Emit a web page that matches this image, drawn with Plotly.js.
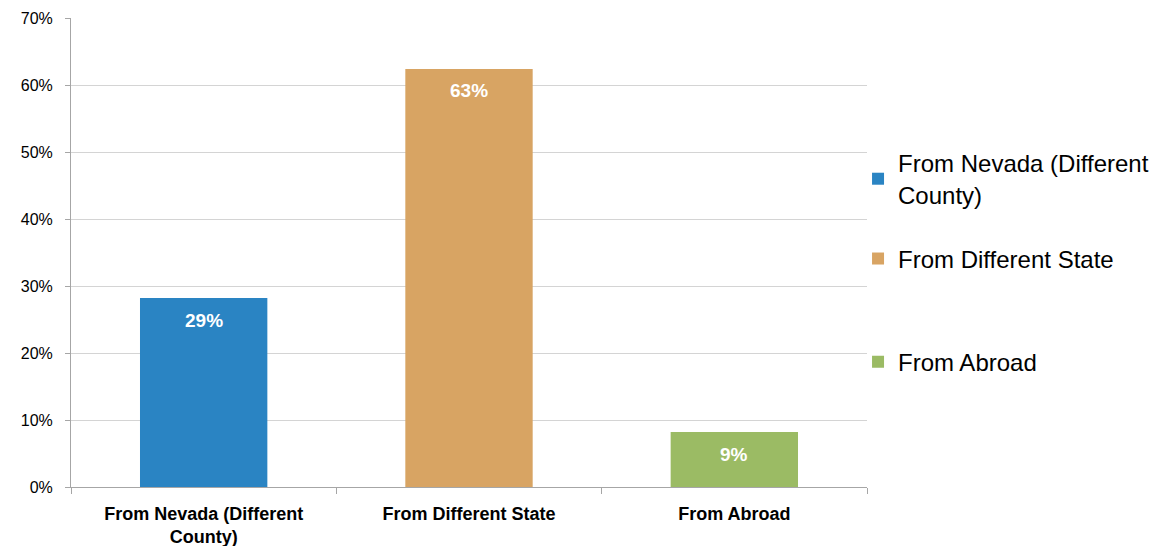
<!DOCTYPE html>
<html><head><meta charset="utf-8">
<script src="https://cdn.plot.ly/plotly-3.0.1.min.js"></script>
<style>html,body{margin:0;padding:0;background:#fff}#chart{width:1165px;height:546px}</style>
</head><body><div id="chart"></div>
<script>
const categories = ["From Nevada (Different<br>County)", "From Different State", "From Abroad"];
const legendNames = ["From Nevada (Different<br>County)", "From Different State", "From Abroad"];
const values = [28.2, 62.4, 8.2];
const labels = ["29%", "63%", "9%"];
const colors = ["#2a84c3", "#d8a463", "#9bbb64"];
const yTicks = [0, 10, 20, 30, 40, 50, 60, 70];

const FONT = "Liberation Sans, Arial, sans-serif";

const traces = categories.map((c, i) => ({
  type: 'bar',
  x: [c],
  y: [values[i]],
  name: legendNames[i],
  width: 0.48,
  marker: {color: colors[i]},
  legend: i === 2 ? 'legend2' : 'legend',
  legendgroup: 'g' + i,
  hoverinfo: 'none'
}));

const annotations = categories.map((c, i) => ({
  x: c, y: values[i], xref: 'x', yref: 'y',
  text: '<b>' + labels[i] + '</b>', showarrow: false,
  yanchor: 'middle', yshift: -22,
  font: {family: FONT, size: 19, color: '#ffffff'}
}));

const layout = {
  width: 1165, height: 546,
  margin: {l: 71, r: 297, t: 18, b: 59},
  paper_bgcolor: '#ffffff', plot_bgcolor: '#ffffff',
  barmode: 'overlay',
  showlegend: true,
  font: {family: FONT, color: '#000000'},
  xaxis: {
    type: 'category', categoryorder: 'array', categoryarray: categories,
    tickson: 'boundaries', ticks: 'outside', ticklen: 6, tickcolor: '#a6a6a6',
    ticklabelstandoff: 10, automargin: false,
    showline: true, linecolor: '#a6a6a6', linewidth: 1,
    showgrid: false, zeroline: false,
    tickfont: {family: FONT, size: 18, color: '#000000', weight: 'bold'},
    fixedrange: true
  },
  yaxis: {
    range: [0, 70], tickvals: yTicks, ticktext: yTicks.map(v => v + '%'),
    ticks: 'outside', ticklen: 5, tickcolor: '#a6a6a6',
    ticklabelstandoff: 9, automargin: false,
    showline: true, linecolor: '#a6a6a6', linewidth: 1,
    showgrid: true, gridcolor: '#d4d4d4', gridwidth: 1,
    zeroline: false,
    tickfont: {family: FONT, size: 16, color: '#000000'},
    fixedrange: true
  },
  legend: {
    x: 0.9875, xanchor: 'left', y: 0.7377, yanchor: 'top',
    traceorder: 'grouped', tracegroupgap: 30,
    font: {family: FONT, size: 24, color: '#000000'},
    bgcolor: 'rgba(0,0,0,0)', itemclick: false, itemdoubleclick: false
  },
  legend2: {
    x: 0.9875, xanchor: 'left', y: 0.3143, yanchor: 'top',
    font: {family: FONT, size: 24, color: '#000000'},
    bgcolor: 'rgba(0,0,0,0)', itemclick: false, itemdoubleclick: false
  },
  annotations: annotations
};

Plotly.newPlot('chart', traces, layout, {displayModeBar: false, staticPlot: true});
</script></body></html>
